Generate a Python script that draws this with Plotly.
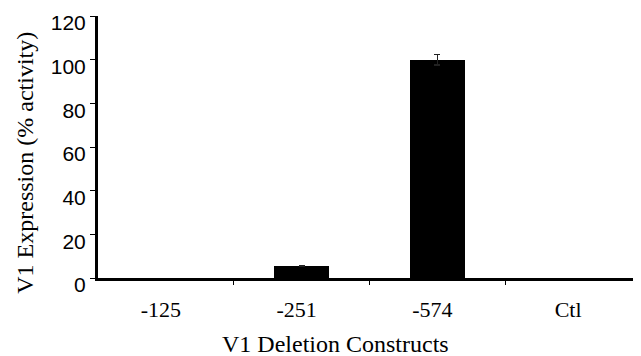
import plotly.graph_objects as go

categories = ["-125", "-251", "-574", "Ctl"]
values = [0, 5.5, 100, 0]
errors = [0, 0.3, 2.4, 0]
y_ticks = [0, 20, 40, 60, 80, 100, 120]
x_title = "V1 Deletion Constructs"
y_title = "V1 Expression (% activity)"

xpos = list(range(len(categories)))
err_idx = [i for i, e in enumerate(errors) if e > 0]

fig = go.Figure()
fig.add_trace(go.Bar(
    x=xpos, y=values, width=0.41,
    marker=dict(color="black", line=dict(width=0)),
))
fig.add_trace(go.Bar(
    x=[xpos[i] for i in err_idx], y=[values[i] for i in err_idx], width=0.41,
    marker=dict(color="rgba(0,0,0,0)", line=dict(width=0)),
    error_y=dict(type="data", array=[errors[i] for i in err_idx], visible=True,
                 color="#222222", thickness=1.2, width=3),
    hoverinfo="skip",
))

fig.update_layout(
    width=633, height=348,
    margin=dict(l=90, r=0, t=8, b=78),
    paper_bgcolor="white", plot_bgcolor="white",
    showlegend=False,
    barmode="overlay",
    bargap=0,
    annotations=[
        dict(
            text=y_title, textangle=-90,
            xref="paper", yref="paper", x=0, y=0.44,
            xanchor="center", yanchor="middle", xshift=-73,
            showarrow=False,
            font=dict(family="Liberation Serif", size=24, color="black"),
        ),
        dict(
            text=x_title,
            xref="paper", yref="paper", x=0.4365, y=0,
            xanchor="center", yanchor="middle", yshift=-66,
            showarrow=False,
            font=dict(family="Liberation Serif", size=24, color="black"),
        ),
    ],
)
fig.update_xaxes(
    automargin=False,
    range=[-0.5, 3.5],
    tickvals=xpos, ticktext=categories,
    ticks="",
    ticklabelstandoff=10,
    ticklabelshift=-5,
    tickfont=dict(family="Liberation Serif", size=22, color="black"),
    showline=True, linecolor="black", linewidth=3,
    showgrid=False, zeroline=False,
    minor=dict(tickvals=[0.5, 1.5, 2.5], ticks="outside", ticklen=4, tickwidth=1, tickcolor="black", showgrid=False),
)
fig.update_yaxes(
    automargin=False,
    range=[0, 120],
    tickvals=y_ticks,
    ticks="outside", ticklen=5, tickwidth=1, tickcolor="black",
    ticklabelshift=7,
    tickfont=dict(family="Liberation Sans", size=21, color="black"),
    showline=True, linecolor="black", linewidth=3,
    showgrid=False, zeroline=False,
)

fig.write_html("out.html")
